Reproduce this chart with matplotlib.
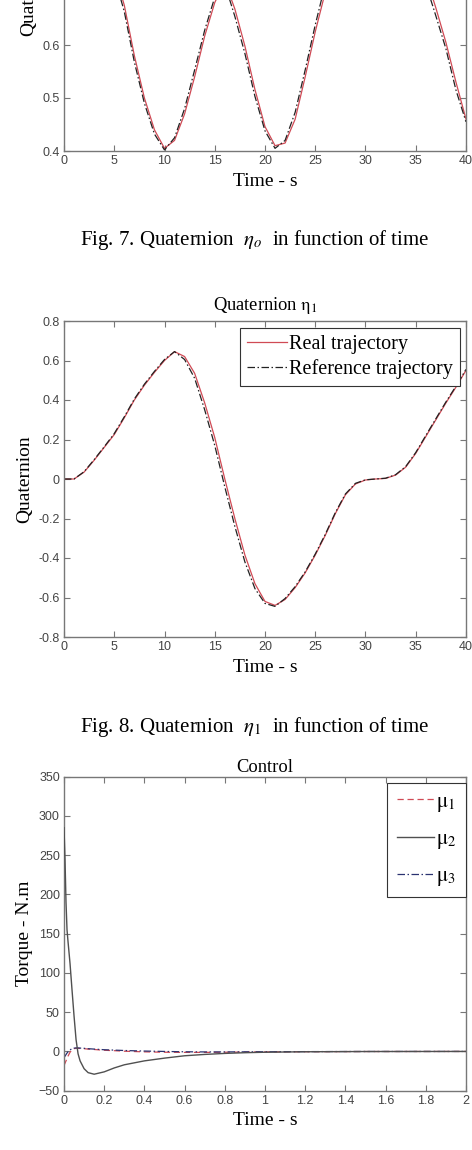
import numpy as np
import matplotlib
matplotlib.use('Agg')
import matplotlib.pyplot as plt

plt.rcParams['font.family'] = ['Liberation Sans', 'DejaVu Sans']
plt.rcParams['mathtext.fontset'] = 'stix'

# quaternion eta_0 / eta_1, sampled every second
t_q = [0, 1, 2, 3, 4, 5, 6, 7, 8, 9, 10, 11, 12, 13, 14, 15, 16, 17, 18, 19, 20,
       21, 22, 23, 24, 25, 26, 27, 28, 29, 30, 31, 32, 33, 34, 35, 36, 37, 38, 39, 40]
eta0_real = [1.0, 0.99, 0.96, 0.9, 0.82, 0.74, 0.675, 0.58, 0.50, 0.44, 0.405,
             0.42, 0.47, 0.54, 0.617, 0.68, 0.72, 0.668, 0.598, 0.516, 0.446,
             0.41, 0.415, 0.46, 0.54, 0.625, 0.70, 0.78, 0.86, 0.93, 0.98,
             1.0, 0.99, 0.95, 0.88, 0.80, 0.73, 0.67, 0.605, 0.53, 0.46]
eta0_ref = [1.0, 0.988, 0.955, 0.893, 0.81, 0.73, 0.663, 0.568, 0.49, 0.432, 0.402,
            0.425, 0.48, 0.553, 0.628, 0.69, 0.715, 0.654, 0.584, 0.503, 0.438,
            0.405, 0.42, 0.473, 0.553, 0.638, 0.715, 0.795, 0.87, 0.94, 0.985,
            1.0, 0.985, 0.94, 0.87, 0.79, 0.715, 0.655, 0.593, 0.515, 0.455]
eta1_real = [0.0, 0.0, 0.035, 0.095, 0.16, 0.225, 0.31, 0.40, 0.475, 0.54, 0.60,
             0.645, 0.62, 0.535, 0.385, 0.21, 0.0, -0.2, -0.385, -0.53, -0.62,
             -0.64, -0.61, -0.55, -0.475, -0.385, -0.285, -0.175, -0.08, -0.025, -0.005,
             0.0, 0.003, 0.02, 0.06, 0.13, 0.215, 0.30, 0.385, 0.465, 0.55]
eta1_ref = [0.0, 0.0, 0.037, 0.098, 0.163, 0.23, 0.315, 0.405, 0.48, 0.545, 0.605,
            0.645, 0.605, 0.51, 0.35, 0.17, -0.04, -0.24, -0.42, -0.555, -0.63,
            -0.645, -0.605, -0.545, -0.47, -0.38, -0.28, -0.17, -0.076, -0.022, -0.004,
            0.0, 0.004, 0.022, 0.063, 0.134, 0.22, 0.305, 0.39, 0.47, 0.555]

# control torques
t_ctrl = [0, 0.005, 0.01, 0.015, 0.02, 0.03, 0.04, 0.05, 0.06, 0.07, 0.08, 0.1, 0.12,
          0.15, 0.2, 0.25, 0.3, 0.4, 0.5, 0.6, 0.7, 0.8, 0.9, 1.0, 1.2, 1.5, 2.0]
mu1 = [-18, -15, -12, -9, -6, -1, 2, 3.5, 4, 4, 3.8, 3.5, 3, 2.5, 1.5, 1, 0.3,
       -0.5, -1, -1.2, -1.2, -1, -0.8, -0.6, -0.3, -0.1, 0]
mu2 = [285, 245, 190, 155, 140, 112, 78, 45, 15, -3, -12, -22, -27, -29, -26, -21,
       -17, -12, -8.5, -5.5, -3.8, -2.5, -1.6, -1.0, -0.4, -0.1, 0]
mu3 = [-8, -6, -4, -2, -0.5, 2, 3.5, 4.2, 4.5, 4.5, 4.3, 4, 3.5, 3, 2.2, 1.7, 1.2,
       0.5, 0, -0.4, -0.6, -0.6, -0.5, -0.4, -0.2, -0.05, 0]

W, H = 472, 1150
serif = 'Liberation Serif'
red = '#d04a55'
dashdot = (0, (6, 2, 1.2, 2))
spine_col = '#777777'
tick_col = '#444444'


def ax_at(left, top, right, bottom):
    # pixel box -> figure fraction
    return fig.add_axes([left / W, 1 - bottom / H, (right - left) / W, (bottom - top) / H])


def style(ax):
    for s in ax.spines.values():
        s.set_color(spine_col)
        s.set_linewidth(1.0)
    ax.tick_params(direction='in', top=True, right=True, length=4, width=0.8,
                   color=spine_col, labelcolor=tick_col, labelsize=9, pad=3)


fig = plt.figure(figsize=(W / 100, H / 100), dpi=100)

# ---- Fig 7 (cropped at the top, as in the source page) ----
ax1 = ax_at(64, -167, 466, 151)
ax1.plot(t_q, eta0_real, color=red, lw=0.9)
ax1.plot(t_q, eta0_ref, color='#222222', lw=0.9, ls=dashdot)
ax1.set_xlim(0, 40)
ax1.set_ylim(0.4, 1.0)
ax1.set_xticks(np.arange(0, 41, 5))
ax1.set_yticks([0.4, 0.5, 0.6])
ax1.set_yticklabels(['0.4', '0.5', '0.6'])
style(ax1)
ax1.set_xlabel('Time - s', family=serif, fontsize=14, labelpad=4)
ax1.set_ylabel('Quaternion', family=serif, fontsize=14, labelpad=4)

fig.text(255 / W, 1 - 240 / H, r'Fig. 7. Quaternion  $\eta_o$  in function of time',
         ha='center', va='center', family=serif, fontsize=15)

# ---- Fig 8 ----
ax2 = ax_at(64, 321, 466, 637)
ax2.plot(t_q, eta1_real, color=red, lw=0.9, label='Real trajectory')
ax2.plot(t_q, eta1_ref, color='#222222', lw=0.9, ls=dashdot, label='Reference trajectory')
ax2.set_xlim(0, 40)
ax2.set_ylim(-0.8, 0.8)
ax2.set_xticks(np.arange(0, 41, 5))
ax2.set_yticks([-0.8, -0.6, -0.4, -0.2, 0, 0.2, 0.4, 0.6, 0.8])
ax2.set_yticklabels(['-0.8', '-0.6', '-0.4', '-0.2', '0', '0.2', '0.4', '0.6', '0.8'])
style(ax2)
ax2.set_title(r'Quaternion $\mathrm{\eta}_1$', family=serif, fontsize=13.3, pad=8)
ax2.set_xlabel('Time - s', family=serif, fontsize=14, labelpad=4)
ax2.set_ylabel('Quaternion', family=serif, fontsize=14, labelpad=4)
leg2 = ax2.legend(loc='upper right', bbox_to_anchor=(1 - 6 / 402, 1 - 7 / 316),
                  borderaxespad=0, prop={'family': serif, 'size': 14.5},
                  fancybox=False, framealpha=1, edgecolor='#333333',
                  handlelength=2.0, handletextpad=0.1, labelspacing=0.25, borderpad=0.35)
leg2.get_frame().set_linewidth(0.8)

fig.text(255 / W, 1 - 727 / H, r'Fig. 8. Quaternion  $\eta_1$  in function of time',
         ha='center', va='center', family=serif, fontsize=15)

# ---- Control ----
ax3 = ax_at(64, 776.7, 466, 1090.7)
ax3.plot(t_ctrl, mu1, color=red, lw=0.9, ls=(0, (5, 3)), label=r'$\mathrm{\mu}_1$', zorder=2)
ax3.plot(t_ctrl, mu2, color='#505050', lw=1.0, label=r'$\mathrm{\mu}_2$', zorder=3)
ax3.plot(t_ctrl, mu3, color='#2a3270', lw=0.9, ls=dashdot, label=r'$\mathrm{\mu}_3$', zorder=2)
ax3.set_xlim(0, 2)
ax3.set_ylim(-50, 350)
ax3.set_xticks([0, 0.2, 0.4, 0.6, 0.8, 1, 1.2, 1.4, 1.6, 1.8, 2])
ax3.set_xticklabels(['0', '0.2', '0.4', '0.6', '0.8', '1', '1.2', '1.4', '1.6', '1.8', '2'])
ax3.set_yticks(np.arange(-50, 351, 50))
style(ax3)
ax3.set_title('Control', family=serif, fontsize=13.3, pad=3.5)
ax3.set_xlabel('Time - s', family=serif, fontsize=14, labelpad=4)
ax3.set_ylabel('Torque - N.m', family=serif, fontsize=14, labelpad=4)
leg3 = ax3.legend(loc='upper right', bbox_to_anchor=(1.0, 1 - 6 / 314),
                  borderaxespad=0, prop={'family': serif, 'size': 15},
                  fancybox=False, framealpha=1, edgecolor='#333333',
                  handlelength=1.8, handletextpad=0.1, labelspacing=0.75, borderpad=0.45)
leg3.get_frame().set_linewidth(0.8)

fig.savefig('out.png', dpi=100)
